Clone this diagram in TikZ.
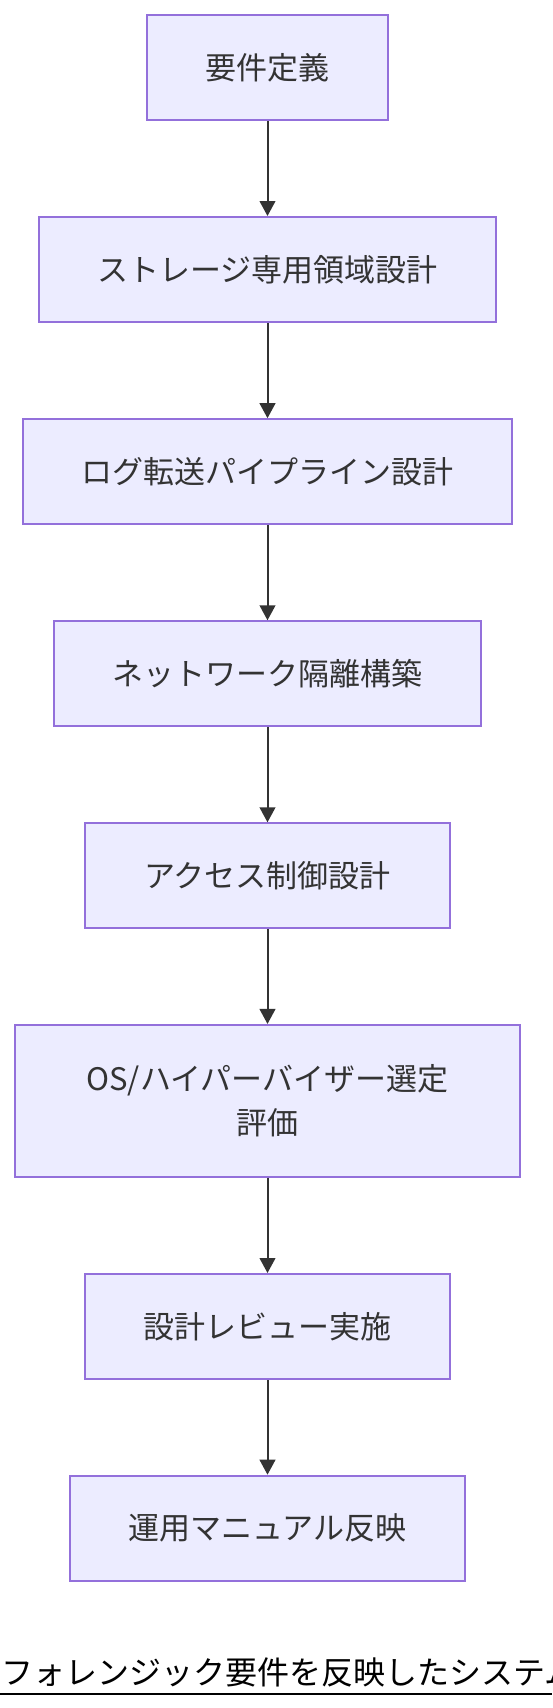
\documentclass[tikz,border=0pt]{standalone}
\usepackage{fontspec}
\setmainfont{Noto Sans CJK JP}
\usetikzlibrary{arrows.meta}
\definecolor{nodefill}{HTML}{ECECFF}
\definecolor{nodeline}{HTML}{9370DB}
\definecolor{edgecol}{HTML}{333333}
\definecolor{txtcol}{HTML}{333333}
\begin{document}
\begin{tikzpicture}[x=1pt,y=-1pt,
  box/.style={draw=nodeline, line width=2pt, fill=nodefill, text=txtcol,
    font=\fontsize{31}{44}\selectfont, align=center, inner sep=0pt,
    minimum height=105pt},
  flow/.style={draw=edgecol, line width=2pt,
    -{Triangle[length=15pt,width=15.7pt]}}]
\useasboundingbox (0,0) rectangle (552,1708);
\clip (0,0) rectangle (552,1708);
\node[box, minimum width=241.6pt] (n1) at (267.5,67.5) {要件定義};
\node[box, minimum width=457.4pt] (n2) at (267.5,269.5) {ストレージ専用領域設計};
\node[box, minimum width=489pt] (n3) at (267.5,471.7) {ログ転送パイプライン設計};
\node[box, minimum width=426.5pt] (n4) at (267.5,673.8) {ネットワーク隔離構築};
\node[box, minimum width=364.3pt] (n5) at (267.5,875.8) {アクセス制御設計};
\node[box, minimum width=504.4pt, minimum height=151.7pt] (n6) at (267.5,1100.8) {OS/ハイパーバイザー選定\\評価};
\node[box, minimum width=364.3pt] (n7) at (267.5,1326.5) {設計レビュー実施};
\node[box, minimum width=395.6pt] (n8) at (267.5,1528.2) {運用マニュアル反映};
\draw[flow] (n1) -- (n2);
\draw[flow] (n2) -- (n3);
\draw[flow] (n3) -- (n4);
\draw[flow] (n4) -- (n5);
\draw[flow] (n5) -- (n6);
\draw[flow] (n6) -- (n7);
\draw[flow] (n7) -- (n8);
\node[anchor=base west, inner sep=0pt, text=black, font=\fontsize{32}{32}\selectfont] (title) at (1,1684) {フォレンジック要件を反映したシステム};
\coordinate (ulA) at (0,1694);
\coordinate (ulB) at (552,1694);
\draw[line width=2.5pt, black] (ulA) -- (ulB);
\end{tikzpicture}
\end{document}
